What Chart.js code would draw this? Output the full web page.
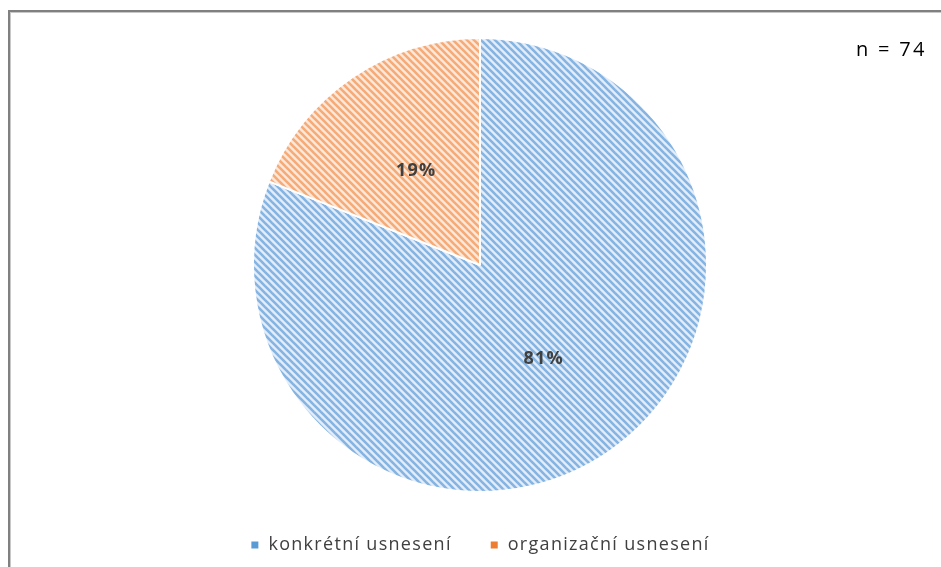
<!DOCTYPE html>
<html>
<head>
<meta charset="utf-8">
<script src="https://cdn.jsdelivr.net/npm/chart.js@4.4.1/dist/chart.umd.min.js"></script>
<style>
  body { margin: 0; background: #ffffff; }
  canvas { display: block; }
</style>
</head>
<body>
<canvas id="my-chart" width="941" height="567"></canvas>
<script>
'use strict'

let categories = ['konkrétní usnesení', 'organizační usnesení'];
let shares = [81, 19];
let sampleLabel = 'n = 74';

let stripeColors = ['#86b4e2', '#f4ab78'];
let paperColors = ['#e2edf9', '#fde8d9'];
let legendColors = ['#5b9bd5', '#ed7d31'];

// diagonal hatch like the excel "wide downward diagonal" fill
function makeHatch(bg, stripe) {
  let size = 7;
  let tile = document.createElement('canvas');
  tile.width = size;
  tile.height = size;
  let tctx = tile.getContext('2d');
  tctx.fillStyle = bg;
  tctx.fillRect(0, 0, size, size);
  tctx.strokeStyle = stripe;
  tctx.lineWidth = 2.6;
  for (let k = -size; k <= size; k += size) {
    tctx.beginPath();
    tctx.moveTo(k - 1, -1);
    tctx.lineTo(k + size + 1, size + 1);
    tctx.stroke();
  }
  return tctx.createPattern(tile, 'repeat');
}

let fills = [];
for (let i = 0; i < shares.length; i++) {
  fills.push(makeHatch(paperColors[i], stripeColors[i]));
}

// excel spaces its text out a little
let spacingPlugin = {
  id: 'spacing',
  beforeLayout(chart) { chart.ctx.letterSpacing = '1.3px'; },
  beforeDraw(chart) { chart.ctx.letterSpacing = '1.3px'; },
};

let framePlugin = {
  id: 'frame',
  beforeDraw(chart) {
    let ctx = chart.ctx;
    ctx.save();
    ctx.fillStyle = '#ffffff';
    ctx.fillRect(0, 0, chart.width, chart.height);
    ctx.fillStyle = '#808080';
    ctx.fillRect(8, 10, 2, chart.height - 10);
    ctx.fillRect(8, 10, chart.width - 8, 2);
    ctx.fillStyle = '#c8c8c8';
    ctx.fillRect(10, 12, 1, chart.height - 12);
    ctx.fillRect(10, 12, chart.width - 10, 1);
    ctx.restore();
  },
  afterDraw(chart) {
    let ctx = chart.ctx;
    ctx.save();
    ctx.letterSpacing = '2.3px';
    ctx.font = '20px "Open Sans"';
    ctx.fillStyle = '#000000';
    ctx.textAlign = 'left';
    ctx.textBaseline = 'middle';
    ctx.fillText(sampleLabel, 856, 50);
    ctx.restore();
  },
};

let percentPlugin = {
  id: 'percentLabels',
  afterDatasetsDraw(chart) {
    let ctx = chart.ctx;
    let meta = chart.getDatasetMeta(0);
    ctx.save();
    ctx.letterSpacing = '1.2px';
    ctx.font = 'bold 18px "Open Sans"';
    ctx.fillStyle = '#404040';
    ctx.textAlign = 'center';
    ctx.textBaseline = 'middle';
    meta.data.forEach(function (arc, i) {
      let p = arc.getCenterPoint();
      ctx.fillText(shares[i] + '%', p.x, p.y);
    });
    ctx.restore();
  },
};

let chartContext = document.getElementById('my-chart').getContext('2d');

let chartConfig = {
  type: 'pie',
  data: {
    labels: categories,
    datasets: [{
      data: shares,
      backgroundColor: fills,
      borderColor: '#ffffff',
      borderWidth: 2,
      radius: 227,
    }],
  },
  options: {
    responsive: false,
    animation: false,
    layout: {
      padding: { top: 32, bottom: 3, left: 20, right: 1 },
    },
    plugins: {
      tooltip: { enabled: false },
      legend: {
        position: 'bottom',
        labels: {
          usePointStyle: true,
          pointStyle: 'rect',
          boxWidth: 9,
          boxHeight: 7,
          padding: 38,
          color: '#404040',
          font: { family: '"Open Sans"', size: 18 },
          generateLabels(chart) {
            let items = Chart.overrides.pie.plugins.legend.labels.generateLabels(chart);
            items.forEach(function (item, i) {
              item.fillStyle = legendColors[i];
              item.strokeStyle = legendColors[i];
              item.lineWidth = 0;
            });
            return items;
          },
        },
      },
    },
  },
  plugins: [spacingPlugin, framePlugin, percentPlugin],
};

let myChart = new Chart(chartContext, chartConfig);
</script>
</body>
</html>
